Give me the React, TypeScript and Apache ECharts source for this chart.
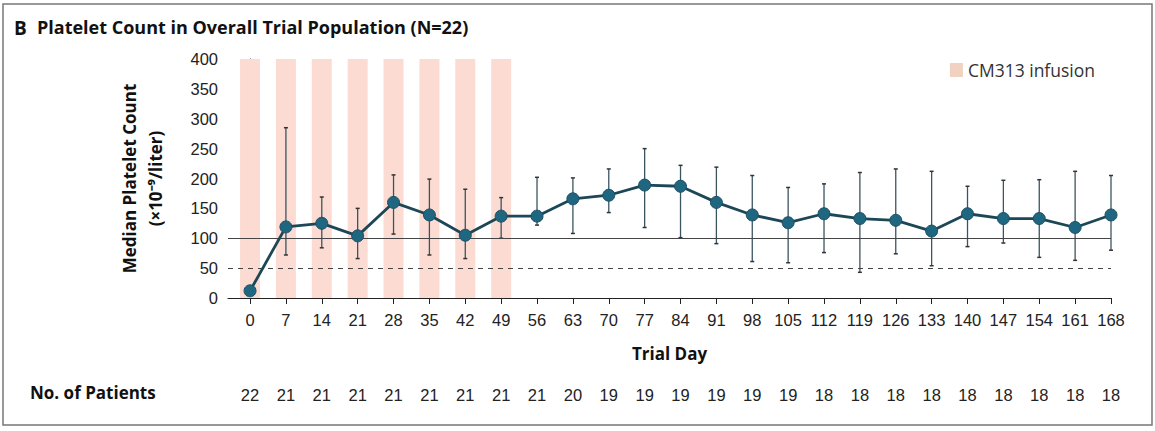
import React, { useEffect, useRef } from "react";
import * as echarts from "echarts";

const days = [0, 7, 14, 21, 28, 35, 42, 49, 56, 63, 70, 77, 84, 91, 98, 105, 112, 119, 126, 133, 140, 147, 154, 161, 168];
const medians = [12, 119, 125, 104, 160, 139, 105, 137, 137, 166, 172, 189, 187, 160, 139, 126, 141, 133, 130, 112, 141, 133, 133, 118, 139];
const upper = [12, 285, 169, 150, 206, 199, 182, 168, 202, 201, 216, 250, 222, 219, 205, 185, 191, 210, 216, 212, 187, 197, 198, 212, 205];
const lower = [12, 72, 84, 66, 107, 72, 66, 100, 122, 108, 143, 118, 101, 91, 61, 59, 76, 43, 74, 54, 86, 92, 68, 63, 80];
const patients = [22, 21, 21, 21, 21, 21, 21, 21, 21, 20, 19, 19, 19, 19, 19, 19, 18, 18, 18, 18, 18, 18, 18, 18, 18];
const infusionDays = [0, 7, 14, 21, 28, 35, 42, 49];
const yTicks = [0, 50, 100, 150, 200, 250, 300, 350, 400];
const refSolid = 100;
const refDashed = 50;

const FONT = "'Liberation Sans', 'DejaVu Sans', sans-serif";
const BOLD = "'Open Sans', 'Liberation Sans', sans-serif";

export default function App() {
  const ref = useRef<HTMLDivElement>(null);

  useEffect(() => {
    document.body.style.margin = "0";
    const chart = echarts.init(ref.current!, null, { renderer: "svg" });
    const patientMap: Record<number, number> = {};
    days.forEach((d, i) => (patientMap[d] = patients[i]));

    chart.setOption({
      animation: false,
      backgroundColor: "#fff",
      graphic: [
        {
          type: "rect",
          shape: { x: 3, y: 4, width: 1149, height: 421 },
          style: { fill: "none", stroke: "#777", lineWidth: 1.5 },
          silent: true,
        },
        {
          type: "text",
          left: 14,
          top: 18,
          style: { text: "B", font: `bold 19px ${BOLD}`, fill: "#111" },
        },
        {
          type: "text",
          left: 37,
          top: 18,
          style: { text: "Platelet Count in Overall Trial Population (N=22)", font: `bold 18px ${BOLD}`, fill: "#111" },
        },
        {
          type: "text",
          left: 30,
          top: 384,
          style: { text: "No. of Patients", font: `bold 17px ${BOLD}`, fill: "#111" },
        },
      ],
      legend: {
        right: 55,
        top: 56,
        itemWidth: 13,
        itemHeight: 14,
        itemGap: 10,
        icon: "rect",
        textStyle: { fontFamily: BOLD, fontSize: 17.5, color: "#333" },
        data: [{ name: "CM313 infusion", itemStyle: { color: "#f1d2c0" } }],
      },
      grid: { left: 228, right: 44, top: 59, bottom: 133 },
      xAxis: [
        {
          type: "value",
          min: -4.3,
          max: 168,
          name: "Trial Day",
          nameLocation: "middle",
          nameGap: 47,
          nameTextStyle: { fontFamily: BOLD, fontWeight: "bold", fontSize: 17, color: "#111" },
          axisLine: { show: true, lineStyle: { color: "#222", width: 1 } },
          axisTick: { show: true, customValues: days, length: 6, lineStyle: { color: "#222" } },
          axisLabel: { customValues: days, margin: 13, fontFamily: FONT, fontSize: 16.5, color: "#222" },
          splitLine: { show: false },
        },
        {
          type: "value",
          min: -4.3,
          max: 168,
          position: "bottom",
          offset: 80,
          axisLine: { show: false },
          axisTick: { show: false },
          axisLabel: {
            customValues: days,
            margin: 8,
            fontFamily: FONT,
            fontSize: 16.5,
            color: "#222",
            formatter: (v: number) => String(patientMap[v] ?? ""),
          },
          splitLine: { show: false },
        },
      ],
      yAxis: {
        type: "value",
        min: 0,
        max: 400,
        interval: 50,
        name: "Median Platelet Count\n(×10⁻⁹/liter)",
        nameLocation: "middle",
        nameGap: 60,
        nameTextStyle: { fontFamily: BOLD, fontWeight: "bold", fontSize: 17, color: "#111", lineHeight: 26 },
        axisLine: { show: true, lineStyle: { color: "#222", width: 1 } },
        axisTick: { show: true, length: 5, lineStyle: { color: "#222" } },
        axisLabel: { margin: 10, fontFamily: FONT, fontSize: 16.5, color: "#222", customValues: yTicks },
        splitLine: { show: false },
      },
      series: [
        {
          name: "CM313 infusion",
          type: "bar",
          barWidth: 20,
          itemStyle: { color: "#fcdcd2" },
          data: infusionDays.map((d) => [d, 400]),
          z: 1,
          markLine: {
            silent: true,
            symbol: "none",
            label: { show: false },
            data: [
              { yAxis: refSolid, lineStyle: { color: "#444", width: 1, type: "solid" } },
              { yAxis: refDashed, lineStyle: { color: "#444", width: 1, type: [5, 5] } },
            ],
          },
        },
        {
          name: "range",
          type: "custom",
          z: 3,
          data: days.map((d, i) => [d, lower[i], upper[i]]),
          renderItem: (params: any, api: any) => {
            const x = api.value(0);
            const lo = api.coord([x, api.value(1)]);
            const hi = api.coord([x, api.value(2)]);
            const cap = 2;
            const stroke = { stroke: "#3b5560", lineWidth: 1.3 };
            return {
              type: "group",
              children: [
                { type: "line", shape: { x1: lo[0], y1: lo[1], x2: hi[0], y2: hi[1] }, style: stroke },
                { type: "line", shape: { x1: hi[0] - cap, y1: hi[1], x2: hi[0] + cap, y2: hi[1] }, style: { stroke: "#333", lineWidth: 1.5 } },
                { type: "line", shape: { x1: lo[0] - cap, y1: lo[1], x2: lo[0] + cap, y2: lo[1] }, style: { stroke: "#333", lineWidth: 1.5 } },
              ],
            };
          },
        },
        {
          name: "median",
          type: "line",
          z: 5,
          data: days.map((d, i) => [d, medians[i]]),
          symbol: "circle",
          symbolSize: 12,
          lineStyle: { color: "#1d4757", width: 2.8 },
          itemStyle: { color: "#1f6680", borderColor: "#1d4f63", borderWidth: 1 },
        },
      ],
    });
    return () => chart.dispose();
  }, []);

  return <div ref={ref} style={{ width: 1155, height: 431 }} />;
}
